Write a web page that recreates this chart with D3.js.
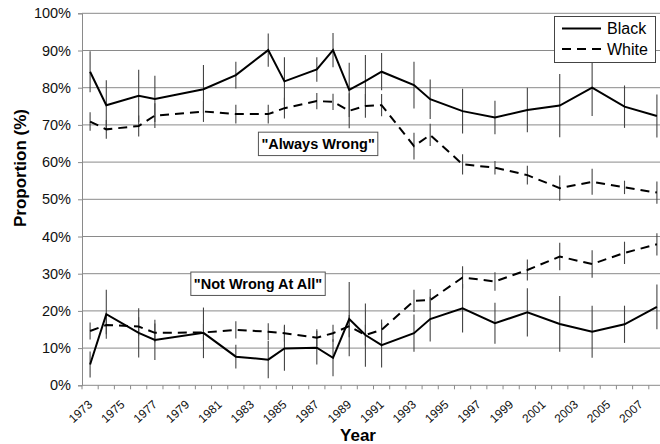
<!DOCTYPE html>
<html>
<head>
<meta charset="utf-8">
<script src="https://cdn.jsdelivr.net/npm/d3@7"></script>
<style>
  html, body { margin: 0; padding: 0; background: #fff; }
  svg { display: block; font-family: "Liberation Sans", Arial, sans-serif; }
</style>
</head>
<body>
<svg id="chart" width="660" height="444"></svg>
<script>
// ---- data ----
const years = [1973,1974,1976,1977,1980,1982,1984,1985,1987,1988,1989,1990,1991,1993,1994,1996,1998,2000,2002,2004,2006,2008];
const blackAlwaysWrong    = [84.3,75.3,77.8,77.0,79.6,83.4,90.1,81.7,84.9,90.1,79.4,81.8,84.3,80.7,76.9,73.7,72.0,74.0,75.2,80.0,74.9,72.4];
const blackAlwaysWrongErr = [5.5,6.7,7.0,6.2,6.5,3.6,4.5,6.5,3.3,4.6,7.3,7.0,5.0,6.3,5.3,6.0,4.5,6.0,8.5,7.6,5.7,5.8];
const whiteAlwaysWrong    = [70.9,68.8,69.7,72.5,73.6,72.9,72.9,74.5,76.4,76.2,73.8,75.1,75.3,64.3,67.3,59.4,58.5,56.5,53.0,54.7,53.2,51.8];
const whiteAlwaysWrongErr = [2.5,2.5,2.8,3.3,2.8,2.5,2.5,2.8,2.2,2.2,4.7,3.2,3.0,3.6,3.0,2.7,1.8,2.5,3.4,3.5,1.8,3.0];
const blackNotWrong       = [5.6,19.1,14.1,12.2,14.1,7.7,6.9,9.9,10.1,7.4,17.8,13.5,10.8,14.0,17.8,20.7,16.7,19.6,16.5,14.4,16.4,21.1];
const blackNotWrongErr    = [3.5,6.6,6.6,5.4,6.8,3.2,5.0,6.0,4.5,5.0,10.0,8.5,6.0,5.0,6.0,6.5,5.5,6.5,7.5,7.0,5.0,6.0];
const whiteNotWrong       = [14.6,16.2,15.8,14.1,14.2,14.9,14.4,14.0,12.8,14.0,15.9,13.5,14.9,22.7,22.9,29.0,27.9,31.0,34.6,32.6,35.6,37.9];
const whiteNotWrongErr    = [2.3,2.5,2.5,2.5,2.3,2.3,2.3,2.3,2.3,2.3,3.0,2.8,2.8,3.0,3.0,3.0,2.5,2.8,3.7,3.7,3.0,3.0];

const axisYears = d3.range(1973, 2009);                 // category axis
const labelYears = d3.range(1973, 2008, 2);             // labelled categories
const yTicks = d3.range(0, 101, 10);
const legendLabels = ["Black", "White"];
const annotations = [
  {text: "\"Always Wrong\"", year: 1987.08, value: 64.9},
  {text: "\"Not Wrong At All\"", year: 1983.37, value: 27.3}
];

// ---- scales ----
const svg = d3.select("#chart");
const plotL = 82, plotR = 665, plotT = 13.3, plotB = 385.3;
const x = d3.scaleBand().domain(axisYears).range([plotL, plotR]).padding(0);
const xc = yr => x(Math.floor(yr)) + x.bandwidth() * (0.5 + (yr - Math.floor(yr)));
const y = d3.scaleLinear().domain([0, 100]).range([plotB, plotT]);

// gridlines
svg.append("g").selectAll("line").data(yTicks.filter(d => d > 0)).join("line")
  .attr("x1", plotL).attr("x2", 660).attr("y1", d => y(d)).attr("y2", d => y(d))
  .attr("stroke", "#8a8a8a").attr("stroke-width", 1);

// y axis
const yAxis = svg.append("g").attr("transform", `translate(${plotL},0)`)
  .call(d3.axisLeft(y).tickValues(yTicks).tickSize(4).tickPadding(7).tickFormat(d => d + "%"));
yAxis.select(".domain").attr("stroke", "#8a8a8a");
yAxis.selectAll(".tick line").attr("stroke", "#8a8a8a");
yAxis.selectAll("text").attr("font-size", 14.5).attr("fill", "#111").attr("font-family", "Liberation Sans, Arial, sans-serif");

// x axis
const xAxis = svg.append("g").attr("transform", `translate(0,${plotB})`)
  .call(d3.axisBottom(x).tickValues(labelYears).tickSize(0).tickFormat(d => d));
xAxis.select(".domain").attr("stroke", "#8a8a8a").attr("d", `M${plotL},0H660`);
xAxis.selectAll(".tick text")
  .attr("font-size", 12).attr("fill", "#111").attr("font-family", "Liberation Sans, Arial, sans-serif")
  .attr("text-anchor", "end").attr("dy", 0)
  .attr("transform", "translate(1,18) rotate(-42)");
svg.append("g").selectAll("line").data(axisYears).join("line")
  .attr("x1", d => x(d)).attr("x2", d => x(d))
  .attr("y1", plotB).attr("y2", plotB + 4)
  .attr("stroke", "#8a8a8a");

// axis titles
svg.append("text").attr("x", 358).attr("y", 441).attr("text-anchor", "middle")
  .attr("font-size", 17).attr("font-weight", "bold").text("Year");
svg.append("text").attr("transform", "translate(26,168) rotate(-90)").attr("text-anchor", "middle")
  .attr("font-size", 17).attr("font-weight", "bold").text("Proportion (%)");

// error bars
const series = [
  {vals: blackAlwaysWrong, err: blackAlwaysWrongErr, dash: null},
  {vals: whiteAlwaysWrong, err: whiteAlwaysWrongErr, dash: "9,6"},
  {vals: blackNotWrong, err: blackNotWrongErr, dash: null},
  {vals: whiteNotWrong, err: whiteNotWrongErr, dash: "9,6"}
];
series.forEach(s => {
  svg.append("g").selectAll("line").data(years).join("line")
    .attr("x1", d => xc(d)).attr("x2", d => xc(d))
    .attr("y1", (d, i) => y(s.vals[i] + s.err[i]))
    .attr("y2", (d, i) => y(s.vals[i] - s.err[i]))
    .attr("stroke", "#444").attr("stroke-width", 1.1);
});

// lines
const line = d3.line().x(d => xc(d[0])).y(d => y(d[1]));
series.forEach(s => {
  svg.append("path").datum(years.map((yr, i) => [yr, s.vals[i]]))
    .attr("d", line).attr("fill", "none").attr("stroke", "#000")
    .attr("stroke-width", 2).attr("stroke-dasharray", s.dash);
});

// annotation boxes
annotations.forEach(a => {
  const g = svg.append("g");
  const cy = y(a.value);
  const t = g.append("text").attr("x", xc(a.year)).attr("y", cy).attr("dy", "0.36em")
    .attr("text-anchor", "middle").attr("font-size", 14.5).attr("font-weight", "bold")
    .attr("fill", "#000").text(a.text);
  const bb = t.node().getBBox();
  g.insert("rect", "text").attr("x", bb.x - 3).attr("y", cy - 11.7)
    .attr("width", bb.width + 6).attr("height", 23.4)
    .attr("fill", "#fff").attr("stroke", "#555").attr("stroke-width", 1);
});

// legend
const lg = svg.append("g");
lg.append("rect").attr("x", 554.5).attr("y", 16.5).attr("width", 101).attr("height", 46)
  .attr("fill", "#fff").attr("stroke", "#444").attr("stroke-width", 1);
legendLabels.forEach((lab, i) => {
  const ly = 28.5 + i * 20.5;
  lg.append("line").attr("x1", 562).attr("x2", 601).attr("y1", ly).attr("y2", ly)
    .attr("stroke", "#000").attr("stroke-width", 2)
    .attr("stroke-dasharray", i === 1 ? "9,6" : null);
  lg.append("text").attr("x", 607).attr("y", ly + 5.5).attr("font-size", 16)
    .attr("fill", "#000").text(lab);
});
</script>
</body>
</html>
